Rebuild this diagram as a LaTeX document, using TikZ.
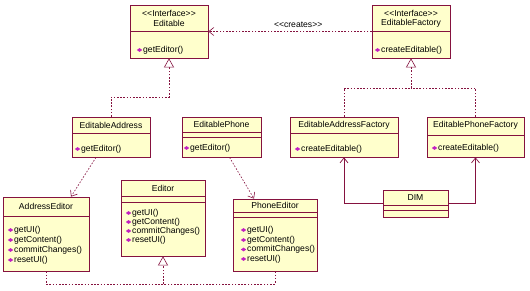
\documentclass[tikz,border=0pt]{standalone}
\usepackage{fontspec}
\setmainfont{Liberation Sans}
\usetikzlibrary{arrows.meta,shapes.geometric}
\definecolor{umlred}{HTML}{85123F}
\definecolor{umlfill}{HTML}{FFFFCC}
\definecolor{opmagenta}{HTML}{C21FC2}
\newcommand{\stereo}[1]{<\kern0pt<#1>\kern0pt>}

\begin{document}
\begin{tikzpicture}[x=1pt,y=-1pt,
 cls/.style={draw=umlred,fill=umlfill,line width=0.7pt,inner sep=0pt},
 txt/.style={inner sep=0pt,text=black,font=\fontsize{8.6}{9}\selectfont},
 icon/.style={diamond,fill=opmagenta,inner sep=0pt,minimum width=5.5pt,minimum height=4pt},
 op/.style={txt,anchor=west,label={[icon,label distance=0.5pt]left:{}}},
 sep/.style={umlred,line width=0.7pt},
 dots/.style={umlred,line width=0.6pt,dash pattern=on 1.6pt off 1.6pt},
 real/.style={dots,-{Triangle[length=9pt,width=10pt,fill=white,line width=0.6pt]}},
 dep/.style={dots,-{Straight Barb[length=5pt,width=8pt]}},
 nav/.style={umlred,line width=0.7pt,-{Straight Barb[length=5pt,width=8pt]}}]
\useasboundingbox[fill=white] (0,0) rectangle (530,290);

% interfaces
\node[cls,minimum width=78pt,minimum height=53pt] (ed) at (169,31.5) {};
\draw[sep] (130,31) -- (208,31);
\node[txt] at (169,13) {\stereo{Interface}};
\node[txt] at (169,23) {Editable};
\node[op] at (143,50) {getEditor()};

\node[cls,minimum width=78pt,minimum height=53pt] (edf) at (411,31.5) {};
\draw[sep] (372,31) -- (450,31);
\node[txt] at (411,13) {\stereo{Interface}};
\node[txt] at (411,23) {EditableFactory};
\node[op] at (381,50) {createEditable()};

% editables and factories
\node[cls,minimum width=78pt,minimum height=40pt] (eda) at (111,137) {};
\draw[sep] (72,133) -- (150,133);
\node[txt] at (111,125) {EditableAddress};
\node[op] at (81,149) {getEditor()};

\node[cls,minimum width=79pt,minimum height=40pt] (edp) at (221.5,137) {};
\draw[sep] (182,132) -- (261,132);
\draw[sep] (182,137) -- (261,137);
\node[txt] at (221.5,124.5) {EditablePhone};
\node[op] at (190,148) {getEditor()};

\node[cls,minimum width=108pt,minimum height=40pt] (edaf) at (344,137) {};
\draw[sep] (290,133) -- (398,133);
\node[txt] at (344,125) {EditableAddressFactory};
\node[op] at (301,149) {createEditable()};

\node[cls,minimum width=97pt,minimum height=40pt] (edpf) at (475.5,137) {};
\draw[sep] (427,135) -- (524,135);
\node[txt] at (475.5,125) {EditablePhoneFactory};
\node[op] at (438,148) {createEditable()};

\node[cls,minimum width=65pt,minimum height=27pt] (dim) at (415.5,203.5) {};
\draw[sep] (383,205) -- (448,205);
\draw[sep] (383,210) -- (448,210);
\node[txt] at (415.5,198) {DIM};

% editors
\node[cls,minimum width=86pt,minimum height=74pt] (aed) at (46,234) {};
\draw[sep] (3,216) -- (89,216);
\node[txt] at (46,206) {AddressEditor};
\node[op] at (14,230) {getUI()};
\node[op] at (14,240) {getContent()};
\node[op] at (14,250) {commitChanges()};
\node[op] at (14,260) {resetUI()};

\node[cls,minimum width=84pt,minimum height=76pt] (editor) at (163,218) {};
\draw[sep] (121,196) -- (205,196);
\draw[sep] (121,202) -- (205,202);
\node[txt] at (163,188) {Editor};
\node[op] at (132,213) {getUI()};
\node[op] at (132,222) {getContent()};
\node[op] at (132,231) {commitChanges()};
\node[op] at (132,240) {resetUI()};

\node[cls,minimum width=84pt,minimum height=72pt] (ped) at (275,235) {};
\draw[sep] (233,212) -- (317,212);
\draw[sep] (233,217) -- (317,217);
\node[txt] at (275,205.5) {PhoneEditor};
\node[op] at (247,230) {getUI()};
\node[op] at (247,240) {getContent()};
\node[op] at (247,249.5) {commitChanges()};
\node[op] at (247,259) {resetUI()};

% connectors
\coordinate (edbend) at (111,97);
\coordinate (fbend) at (411,88);
\coordinate (ebend) at (163,284);
\draw[dep] (edf.west) -- node[txt,pos=0.45,above=4pt]{\stereo{creates}} (ed.east);
\draw[real] (eda.north) -- (edbend) -| (ed.south);
\draw[dots] (edaf.north) |- (fbend);
\draw[dots] (edpf.north) |- (fbend);
\draw[real] (fbend) -- (edf.south);
\draw[nav] (dim.west) -| (edaf.south);
\draw[nav] (dim.east) -| (edpf.south);
\draw[dep] ([xshift=-15pt]eda.south) -- ([xshift=25pt]aed.north);
\draw[dep] ([xshift=8pt]edp.south) -- ([xshift=-21pt]ped.north);
\draw[dots] (aed.south) |- (ebend);
\draw[dots] (ped.south) |- (ebend);
\draw[real] (ebend) -- (editor.south);
\end{tikzpicture}
\end{document}
